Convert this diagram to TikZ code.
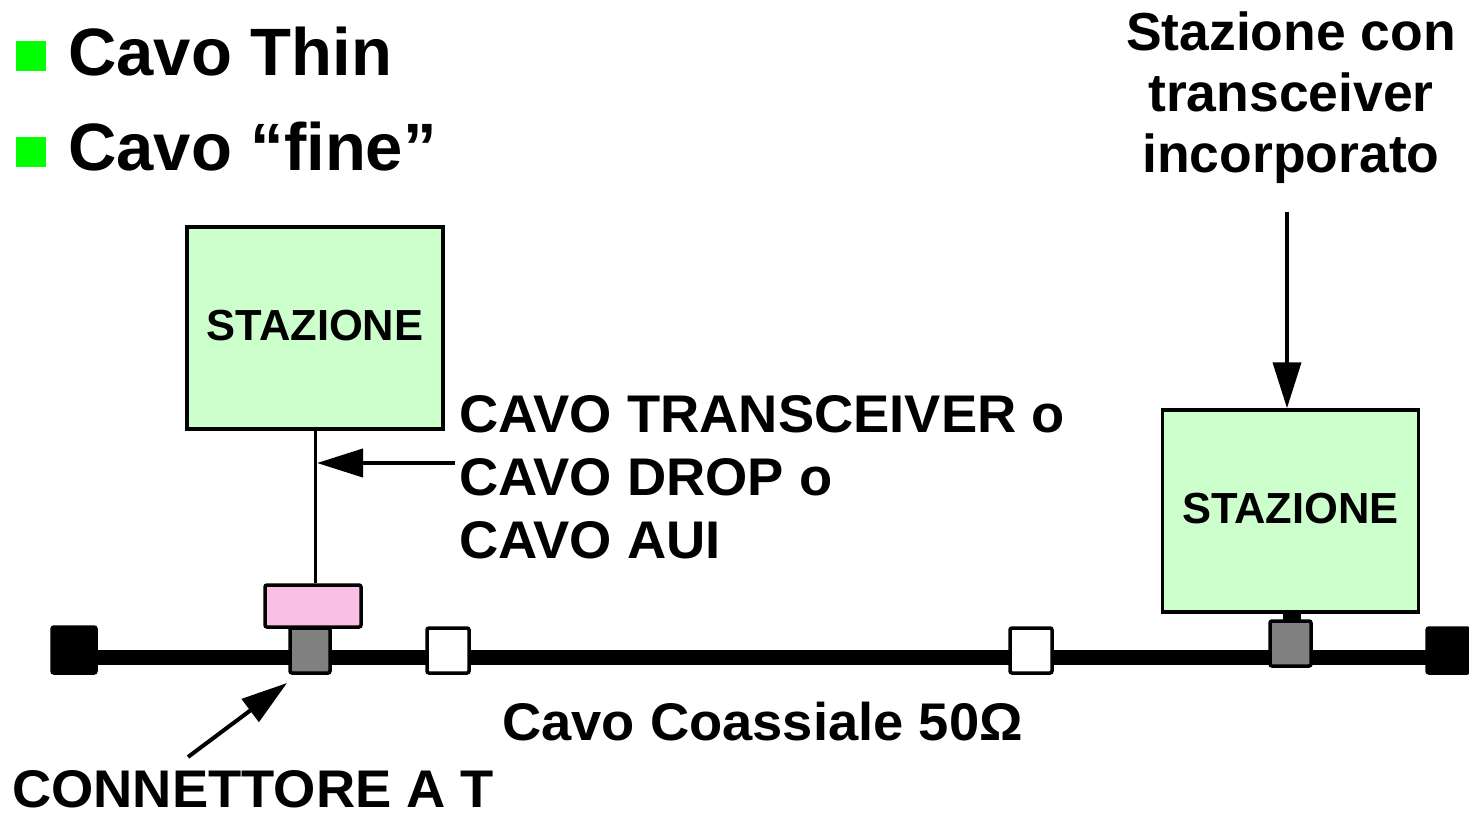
\documentclass[tikz,border=0pt]{standalone}
\usepackage{fontspec}
\setmainfont{Liberation Sans}
\newfontfamily\lblfont[FakeStretch=1.025]{Liberation Sans}
\usetikzlibrary{arrows.meta}
\definecolor{boxgreen}{RGB}{204,255,204}
\definecolor{tpink}{RGB}{250,192,228}
\definecolor{conngray}{RGB}{128,128,128}
\definecolor{bullgreen}{RGB}{0,255,0}
\tikzset{
  station/.style={draw, line width=3.5pt, fill=boxgreen, minimum width=256pt, minimum height=202pt, inner sep=0pt,
     text depth=6pt, font=\bfseries\fontsize{43.5}{50}\selectfont},
  blk/.style={draw, line width=3.5pt, rounded corners=2pt, inner sep=0pt, minimum width=#1},
  lbl/.style={inner sep=0pt, font=\lblfont\bfseries\fontsize{53}{63}\selectfont},
  toplbl/.style={inner sep=0pt, font=\bfseries\fontsize{53.5}{61}\selectfont},
  bigarrow/.style={line width=4pt, -{Triangle[length=46pt,width=28pt]}},
  bullet/.style={fill=bullgreen, draw=none, minimum size=30pt, inner sep=0pt},
  headlbl/.style={inner sep=0pt, anchor=base west, font=\bfseries\fontsize{67}{79}\selectfont},
}
\begin{document}
\begin{tikzpicture}[x=1pt,y=-1pt]
\useasboundingbox (0,0) rectangle (1469,819);
% bullets
\node[bullet] (b1) at (31,56) {};
\node[bullet] (b2) at (31,152) {};
\node[headlbl] (t1) at (68,75) {Cavo Thin};
\node[headlbl] (t2) at (68,170) {Cavo “fine”};
% stations
\node[station] (stA) at (315,328) {STAZIONE};
\node[station] (stB) at (1290.5,511) {STAZIONE};
% bus
\coordinate (busL) at (74,657.5);
\coordinate (busR) at (1448,657.5);
\draw[line width=15pt] (busL) -- (busR);
% terminators
\node[blk=44pt, minimum height=46pt, fill=black] (termL) at (74,650) {};
\node[blk=42pt, minimum height=45pt, fill=black] (termR) at (1448,650.5) {};
% barrels
\node[blk=42pt, minimum height=45pt, fill=white] (w1) at (448,650.5) {};
\node[blk=42pt, minimum height=45pt, fill=white] (w2) at (1031,650.5) {};
% left connector + transceiver
\node[blk=40pt, minimum height=45pt, fill=conngray] (gA) at (310,650.5) {};
\node[blk=96pt, minimum height=42pt, fill=tpink] (pink) at (313,606) {};
\draw[line width=3pt] (stA.south) -- (stA.south |- pink.north);
% right connector
\draw[line width=18pt] (1291.5,610) -- (1291.5,624);
\node[blk=41pt, minimum height=45pt, fill=conngray] (gB) at (1290.5,643.5) {};
% labels
\node[lbl, anchor=north west, align=left] (cavo) at (459,395) {CAVO TRANSCEIVER o\\CAVO DROP o\\CAVO AUI};
\node[toplbl, anchor=north, align=center] (stc) at (1291,12) {Stazione con\\transceiver\\incorporato};
\node[lbl, anchor=base west] (coax) at (502,740) {Cavo Coassiale 50Ω};
\node[lbl, anchor=base west, text depth=0pt] (conn) at (12,807) {CONNETTORE A T};
% arrows
\coordinate (a1s) at (455,463);
\coordinate (a1e) at (317,463);
\draw[bigarrow] (a1s) -- (a1e);
\coordinate (a2s) at (1287,212);
\draw[bigarrow] (a2s) -- (stB.north -| a2s);
\coordinate (a3s) at (188,757);
\coordinate (a3e) at (287,683);
\draw[bigarrow] (a3s) -- (a3e);
\end{tikzpicture}
\end{document}
